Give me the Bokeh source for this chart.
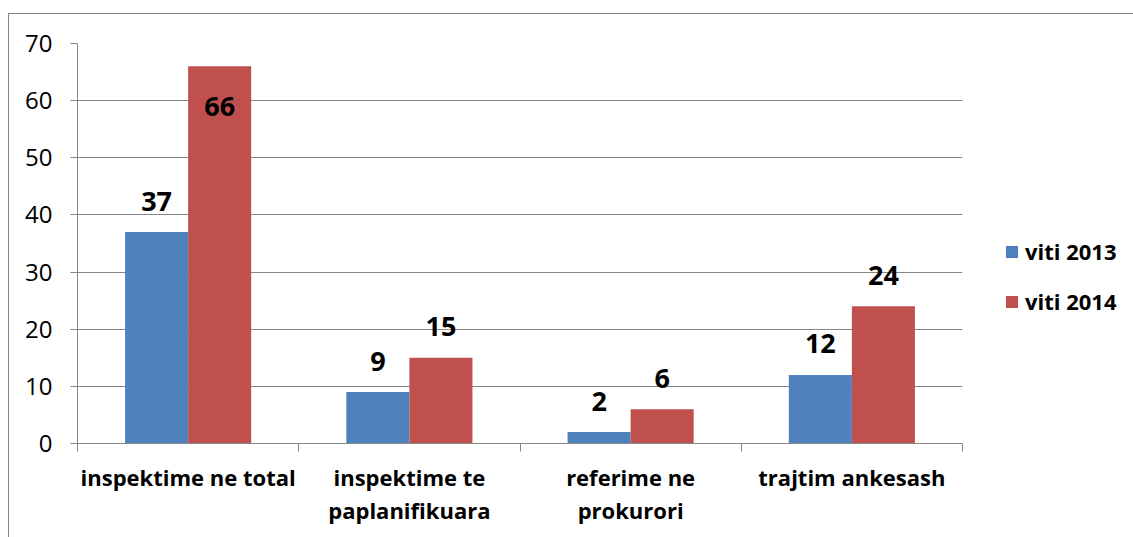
from bokeh.plotting import figure
from bokeh.models import ColumnDataSource, FixedTicker, Legend, LegendItem, Range1d
from bokeh.transform import dodge
from bokeh.core.properties import value
from bokeh.embed import file_html
from bokeh.resources import INLINE

# ---- data ----
categories = ["inspektime ne total", "inspektime te\npaplanifikuara",
              "referime ne\nprokurori", "trajtim ankesash"]
viti_2013 = [37, 9, 2, 12]
viti_2014 = [66, 15, 6, 24]
series_names = ["viti 2013", "viti 2014"]
y_ticks = [0, 10, 20, 30, 40, 50, 60, 70]

# ---- style ----
BLUE = "#4F81BD"
RED = "#C0504D"
GRAY = "#868686"
FONT = "Open Sans"
Y_MAX = 70
FRAME_W, FRAME_H = 885, 400
BAR_W = 0.285
px_per_unit = FRAME_H / Y_MAX


n = len(categories)
centers = [i + 0.5 for i in range(n)]


def label_y(vals):
    out = []
    for v in vals:
        above = v + 31 / px_per_unit
        if above + 12 / px_per_unit > Y_MAX:
            out.append(v - 40 / px_per_unit)
        else:
            out.append(above)
    return out


src = ColumnDataSource(dict(
    x=centers,
    y13=viti_2013,
    y14=viti_2014,
    t13=[str(v) for v in viti_2013],
    t14=[str(v) for v in viti_2014],
    ly13=label_y(viti_2013),
    ly14=label_y(viti_2014),
))

p = figure(frame_width=FRAME_W, frame_height=FRAME_H, output_backend="svg",
           toolbar_location=None,
           x_range=Range1d(0, n), y_range=Range1d(0, Y_MAX),
           min_border_left=77, min_border_right=171, min_border_top=43,
           min_border_bottom=94)
# outer chart border (left and top edges only are visible in the reference)
p.styles = {
    "background": ("linear-gradient(#868686, #868686) 8px 13px / 1px 100% no-repeat, "
                   "linear-gradient(#868686, #868686) 8px 13px / 100% 1px no-repeat, white"),
}
p.outline_line_color = None
p.background_fill_color = "white"
p.border_fill_color = None

r13 = p.vbar(x=dodge("x", -BAR_W / 2), top="y13", width=BAR_W, source=src,
             fill_color=BLUE, line_color=None)
r14 = p.vbar(x=dodge("x", BAR_W / 2), top="y14", width=BAR_W, source=src,
             fill_color=RED, line_color=None)

for ycol, tcol, off in (("ly13", "t13", -BAR_W / 2), ("ly14", "t14", BAR_W / 2)):
    p.text(x=dodge("x", off), y=ycol, text=tcol, source=src,
           text_font=value(FONT), text_font_style="bold", text_font_size="27px",
           text_align="center", text_baseline="alphabetic", text_color="black")

# x axis: categories between boundary ticks
xa = p.xaxis[0]
xa.ticker = FixedTicker(ticks=centers, minor_ticks=list(range(n + 1)))
xa.major_label_overrides = {c: lab for c, lab in zip(centers, categories)}
xa.major_tick_out = 0
xa.major_tick_in = 0
xa.minor_tick_out = 8
xa.minor_tick_in = 0
xa.minor_tick_line_color = GRAY
xa.axis_line_color = GRAY
xa.major_label_text_font = FONT
xa.major_label_text_font_style = "bold"
xa.major_label_text_font_size = "22px"
xa.major_label_text_color = "black"
xa.major_label_standoff = 10
xa.major_label_text_line_height = 1.1

ya = p.yaxis[0]
ya.ticker = FixedTicker(ticks=y_ticks)
ya.major_tick_out = 7
ya.major_tick_in = 0
ya.minor_tick_out = 0
ya.minor_tick_in = 0
ya.major_tick_line_color = GRAY
ya.axis_line_color = GRAY
ya.major_label_text_font = FONT
ya.major_label_text_font_size = "24px"
ya.major_label_text_color = "black"
ya.major_label_standoff = 18

p.xgrid.grid_line_color = None
p.ygrid.grid_line_color = GRAY
p.ygrid.ticker = FixedTicker(ticks=y_ticks)

legend = Legend(items=[LegendItem(label=series_names[0], renderers=[r13]),
                       LegendItem(label=series_names[1], renderers=[r14])],
                location=(42, 127), orientation="vertical",
                glyph_width=15, glyph_height=15, label_standoff=6, spacing=20,
                padding=0, margin=0, border_line_color=None, background_fill_alpha=0,
                label_text_font=FONT, label_text_font_style="bold",
                label_text_font_size="22px", label_text_color="black")
p.add_layout(legend, "right")

open("out.html", "w").write(file_html(p, INLINE))
